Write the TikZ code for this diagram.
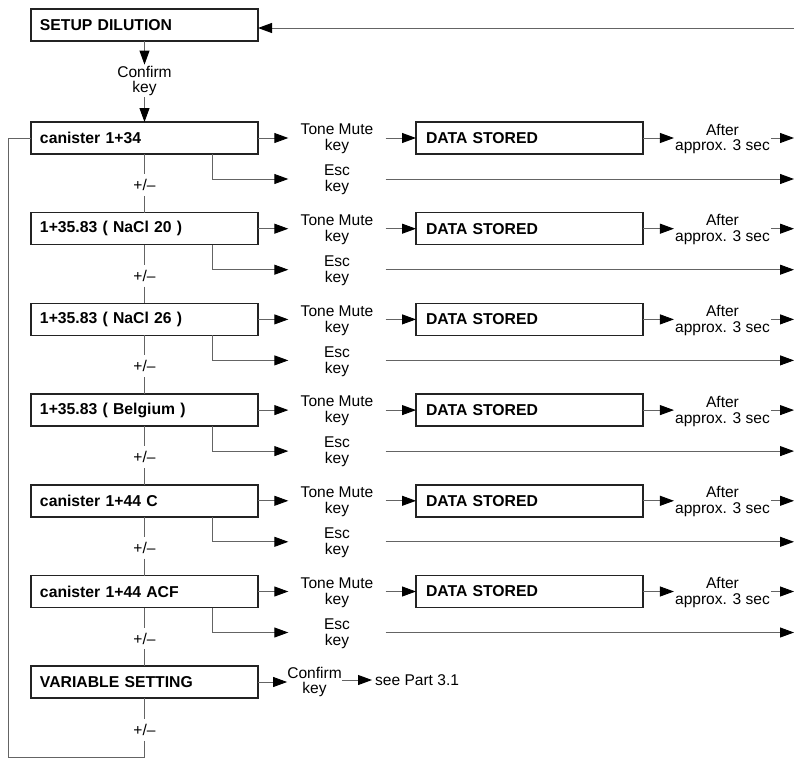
\documentclass[tikz,border=0pt]{standalone}
\usepackage{fontspec}
\setmainfont{Liberation Sans}
\usetikzlibrary{arrows.meta,positioning,calc}
\definecolor{LineGray}{RGB}{100,100,100}
\definecolor{BoxDark}{RGB}{35,35,35}
\tikzset{
  menubox/.style={draw=BoxDark, line width=1.5bp, minimum height=32bp, text width=209bp,
    inner xsep=9bp, inner ysep=0pt, align=left, outer sep=0pt,
    font=\fontsize{15.8}{16}\selectfont\bfseries},
  keylbl/.style={align=center, inner xsep=0pt, inner ysep=1bp,
    font=\fontsize{15.6}{16}\selectfont},
  conn/.style={LineGray, line width=0.9bp},
  arr/.style={conn, -{Triangle[length=14bp, width=10bp, color=black]}},
}
\begin{document}
\begin{tikzpicture}[x=1bp, y=-1bp]
  \useasboundingbox (0,0) rectangle (794,758);
  \node[menubox] (setup) at (144.5,25) {SETUP DILUTION};
  \node[keylbl] (cnf) at (144.5,81) {Confirm\\key};
  \coordinate (rt) at (794,28);
  \draw[arr] (rt) -- (rt -| setup.east);
  \draw[arr] (setup.south) -- (cnf.north);
  % menu entries
  \foreach \i/\txt in {0/canister 1+34, 1/1+35.83 ( NaCl 20 ), 2/1+35.83 ( NaCl 26 ),
      3/1+35.83 ( Belgium ), 4/canister 1+44 C, 5/canister 1+44 ACF}{
    \pgfmathsetmacro{\yy}{138+90.7*\i}
    \node[menubox] (b\i) at (144.5,\yy) {\txt};
    \node[keylbl, minimum width=97bp] (t\i) at (337,\yy+1) {Tone Mute\\key};
    \node[menubox, text width=207bp, inner xsep=10bp] (d\i) at (529.5,\yy) {DATA STORED};
    \node[keylbl, inner xsep=1bp] (a\i) at (722.5,\yy+1) {After\\approx. 3 sec};
    \node[keylbl, minimum width=97bp] (e\i) at (337,\yy+42) {Esc\\key};
    \node[keylbl, inner ysep=5bp] (p\i) at (144.5,\yy+47) {+/\textendash};
    \coordinate (r\i) at (794,\yy);
    \coordinate (q\i) at (794,\yy+41);
    \draw[arr] (b\i.east) -- (b\i.east -| t\i.west);
    \draw[arr] (t\i.east |- d\i.west) -- (d\i.west);
    \draw[arr] (d\i.east) -- (d\i.east -| a\i.west);
    \draw[arr] (a\i.east |- r\i) -- (r\i);
    \draw[arr] ([xshift=67.5bp]b\i.south) |- (q\i -| e\i.west);
    \draw[arr] (e\i.east |- q\i) -- (q\i);
    \draw[conn] (b\i.south) -- (p\i.north);
  }
  \node[menubox] (b6) at (144.5,682) {VARIABLE SETTING};
  \node[keylbl] (c6) at (314.5,682) {Confirm\\key};
  \node[keylbl, anchor=west, inner xsep=3bp] (s6) at (372,680) {see Part 3.1};
  \node[keylbl, inner ysep=5bp] (p6) at (144.5,730) {+/\textendash};
  \draw[arr] (cnf.south) -- (b0.north);
  \foreach \i [evaluate=\i as \j using int(\i+1)] in {0,...,5}
    \draw[conn] (p\i.south) -- (b\j.north);
  \draw[arr] (b6.east) -- (b6.east -| c6.west);
  \draw[arr] (c6.east |- s6.west) -- (s6.west);
  \draw[conn] (b6.south) -- (p6.north);
  % back to the first entry
  \coordinate (lp) at (8,757);
  \draw[conn] (p6.south) |- (lp) |- (b0.west);
\end{tikzpicture}
\end{document}
